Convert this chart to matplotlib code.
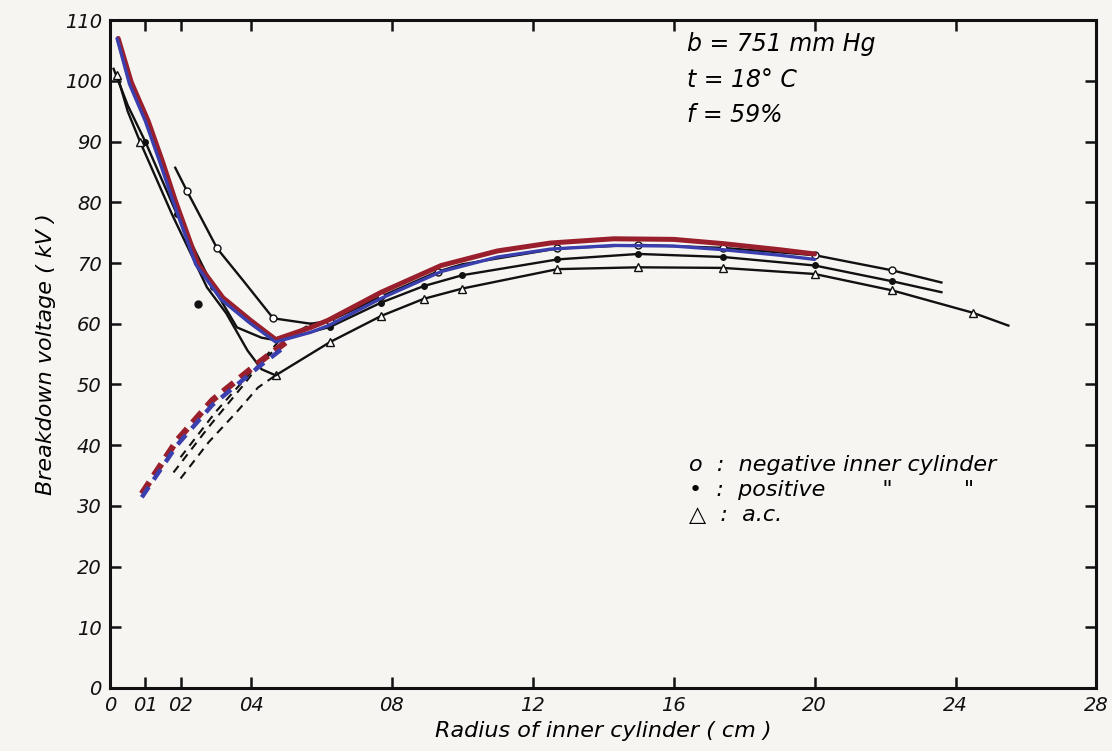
import numpy as np
import matplotlib.pyplot as plt

# radius of inner cylinder (cm) / breakdown voltage (kV)
# negative inner cylinder
neg_desc_r = [0.185, 0.218, 0.304, 0.378, 0.463, 0.57]
neg_desc_v = [85.7, 81.9, 72.4, 67.1, 60.9, 60]
neg_asc_r = [0.57, 0.625, 0.77, 0.93, 1.0, 1.27, 1.5, 1.74, 2.0, 2.22, 2.36]
neg_asc_v = [60, 60.5, 64.5, 68.6, 69.8, 72.4, 73.0, 72.5, 71.3, 68.8, 66.8]
neg_dash_r = [0.2, 0.3, 0.4, 0.5, 0.57]
neg_dash_v = [38, 45.5, 52, 57.5, 60]

# positive inner cylinder
pos_desc_r = [0.01, 0.05, 0.1, 0.19, 0.293, 0.36, 0.43, 0.48]
pos_desc_v = [102, 96, 90, 78, 66, 59.4, 57.7, 57.2]
pos_asc_r = [0.48, 0.625, 0.77, 0.89, 1.0, 1.27, 1.5, 1.74, 2.0, 2.22, 2.36]
pos_asc_v = [57.2, 59.5, 63.5, 66.2, 68.0, 70.6, 71.5, 71.0, 69.6, 67.0, 65.2]
pos_dash_r = [0.18, 0.28, 0.38, 0.44, 0.48]
pos_dash_v = [35.5, 43, 50, 54.5, 57.2]
pos_extra_r = [0.25]
pos_extra_v = [63.3]

# a.c.
ac_desc_r = [0.02, 0.05, 0.085, 0.176, 0.275, 0.33, 0.39, 0.43, 0.47]
ac_desc_v = [101, 95, 90, 78, 66, 61.7, 55.6, 52.5, 51.5]
ac_asc_r = [0.47, 0.625, 0.77, 0.89, 1.0, 1.27, 1.5, 1.74, 2.0, 2.22, 2.45, 2.55]
ac_asc_v = [51.5, 57, 61.3, 64.1, 65.8, 69, 69.3, 69.2, 68.2, 65.5, 61.8, 59.7]
ac_dash_r = [0.2, 0.28, 0.36, 0.42, 0.47]
ac_dash_v = [34.5, 40.5, 45.5, 49.5, 51.5]

# red / blue overlay curves
red_r = [0.023, 0.06, 0.108, 0.15, 0.185, 0.25, 0.32, 0.40, 0.47, 0.57, 0.62, 0.77, 0.94, 1.1, 1.25, 1.43, 1.6, 1.74, 1.9, 2.0]
red_v = [107, 99.8, 93.4, 86.5, 80.3, 69.8, 64.3, 60.5, 57.4, 59.4, 60.6, 65.2, 69.6, 72.0, 73.3, 74.0, 73.9, 73.2, 72.2, 71.5]
red_dash_r = [0.09, 0.19, 0.29, 0.42, 0.5]
red_dash_v = [32, 40.8, 47.4, 53.5, 57]
blue_r = [0.02, 0.055, 0.1, 0.142, 0.178, 0.243, 0.315, 0.395, 0.47, 0.57, 0.62, 0.77, 0.94, 1.1, 1.25, 1.43, 1.6, 1.74, 1.9, 2.0]
blue_v = [107, 99.5, 93.4, 86.5, 80.3, 69.8, 64.0, 60.2, 57.0, 58.6, 59.7, 64.2, 68.6, 71.0, 72.3, 72.9, 72.8, 72.2, 71.3, 70.6]
blue_dash_r = [0.09, 0.19, 0.29, 0.42, 0.5]
blue_dash_v = [31.4, 40, 46.6, 52.8, 56.4]

xticks = [0, 0.1, 0.2, 0.4, 0.8, 1.2, 1.6, 2.0, 2.4, 2.8]
xticklabels = ['0', '01', '02', '04', '08', '12', '16', '20', '24', '28']
yticks = [0, 10, 20, 30, 40, 50, 60, 70, 80, 90, 100, 110]
yticklabels = ['0', '10', '20', '30', '40', '50', '60', '70', '80', '90', '100', '110']

paper = '#f6f5f2'
ink = '#111111'
fam = ['DejaVu Sans']

fig = plt.figure(figsize=(11.12, 7.51), dpi=100, facecolor=paper)
ax = fig.add_axes([0.099, 0.084, 0.887, 0.889])
ax.set_facecolor(paper)

# black hand drawn curves
lw = 1.7
ax.plot(neg_desc_r, neg_desc_v, color=ink, lw=lw, marker='o', ms=5, mfc='white', mec=ink, markevery=[1, 2, 4])
ax.plot(neg_asc_r, neg_asc_v, color=ink, lw=lw, marker='o', ms=5, mfc='white', mec=ink, markevery=[1, 2, 3, 5, 6, 7, 8, 9])
ax.plot(neg_dash_r, neg_dash_v, color=ink, lw=1.5, ls=(0, (4, 3)))

ax.plot(pos_desc_r, pos_desc_v, color=ink, lw=lw, marker='o', ms=4, mfc=ink, mec=ink, markevery=[2, 3, 4])
ax.plot(pos_asc_r, pos_asc_v, color=ink, lw=lw, marker='o', ms=4, mfc=ink, mec=ink, markevery=[1, 2, 3, 4, 5, 6, 7, 8, 9])
ax.plot(pos_dash_r, pos_dash_v, color=ink, lw=1.5, ls=(0, (4, 3)))
ax.plot(pos_extra_r, pos_extra_v, 'o', color=ink, ms=5)

ax.plot(ac_desc_r, ac_desc_v, color=ink, lw=lw, marker='^', ms=6, mfc='white', mec=ink, markevery=[0, 2, 8])
ax.plot(ac_asc_r, ac_asc_v, color=ink, lw=lw, marker='^', ms=6, mfc='white', mec=ink, markevery=[1, 2, 3, 4, 5, 6, 7, 8, 9, 10])
ax.plot(ac_dash_r, ac_dash_v, color=ink, lw=1.5, ls=(0, (4, 3)))

# coloured overlays
ax.plot(red_r, red_v, color='#9a1f2c', lw=3.6, solid_capstyle='round', solid_joinstyle='round', zorder=4)
ax.plot(red_dash_r, red_dash_v, color='#9a1f2c', lw=4.5, ls=(0, (2.2, 1.3)), zorder=4)
ax.plot(blue_r, blue_v, color='#3b3fae', lw=2.4, solid_capstyle='round', solid_joinstyle='round', zorder=5)
ax.plot(blue_dash_r, blue_dash_v, color='#3b3fae', lw=3.2, ls=(0, (2.8, 2.0)), zorder=5)

ax.set_xlim(0, 2.8)
ax.set_ylim(0, 110)
ax.set_xticks(xticks)
ax.set_xticklabels(xticklabels)
ax.set_yticks(yticks)
ax.set_yticklabels(yticklabels)
ax.tick_params(direction='in', length=8, width=1.8, top=True, right=True, labelsize=14, pad=6, colors=ink)
for lab in ax.get_xticklabels() + ax.get_yticklabels():
    lab.set_fontstyle('italic')
    lab.set_family(fam)
for s in ax.spines.values():
    s.set_linewidth(2.2)
    s.set_color(ink)

ax.set_xlabel('Radius of inner cylinder ( cm )', fontsize=16, style='italic', family=fam, labelpad=4)
ax.set_ylabel('Breakdown voltage ( kV )', fontsize=16, style='italic', family=fam, labelpad=6)

# conditions
ax.text(0.585, 0.965, 'b = 751 mm Hg', transform=ax.transAxes, fontsize=17, style='italic', family=fam, va='center')
ax.text(0.585, 0.91, 't = 18° C', transform=ax.transAxes, fontsize=17, style='italic', family=fam, va='center')
ax.text(0.585, 0.858, 'f = 59%', transform=ax.transAxes, fontsize=17, style='italic', family=fam, va='center')

# key
ax.text(0.587, 0.334, 'o  :  negative inner cylinder', transform=ax.transAxes, fontsize=16, style='italic', family=fam, va='center')
ax.text(0.587, 0.297, '•  :  positive        "          "', transform=ax.transAxes, fontsize=16, style='italic', family=fam, va='center')
ax.text(0.587, 0.259, '△  :  a.c.', transform=ax.transAxes, fontsize=16, style='italic', family=fam, va='center')

fig.savefig('out.png', dpi=100, facecolor=paper)
